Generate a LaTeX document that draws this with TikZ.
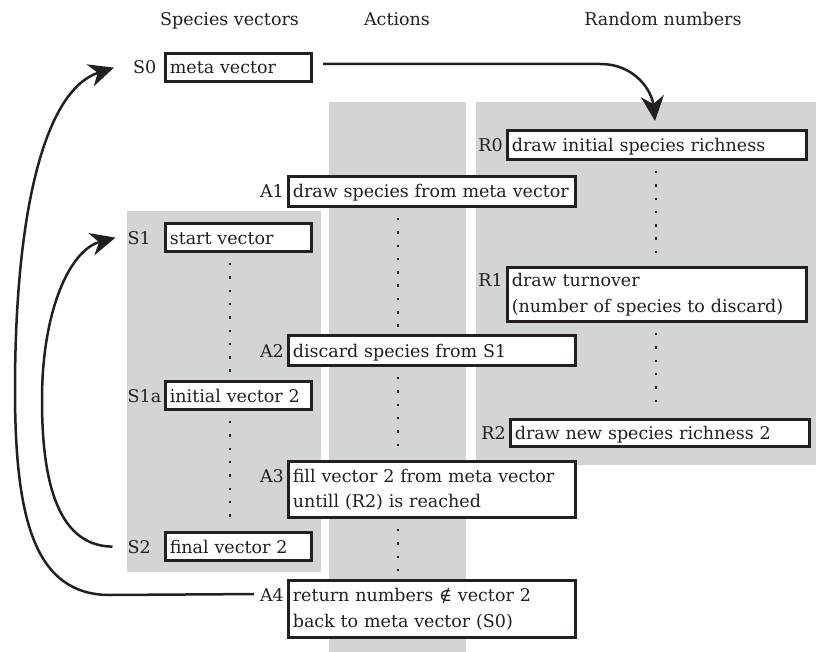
\documentclass[tikz,border=0pt]{standalone}
\usepackage{fontspec}
\setmainfont{DejaVu Serif}
\usetikzlibrary{arrows.meta}
\definecolor{ink}{RGB}{35,31,32}
\definecolor{panel}{RGB}{211,212,214}

\begin{document}
\begin{tikzpicture}[x=1pt,y=-1pt,
  every node/.style={font=\fontsize{17.5}{25.5}\selectfont, text=ink},
  bx/.style={draw=ink, line width=2.6pt, fill=white, inner xsep=4.5pt, inner ysep=0pt, align=left},
  one/.style={text height=13pt, text depth=0pt},
  sbox/.style={bx, minimum width=146.4pt, text width=137.4pt, minimum height=28.4pt},
  abox/.style={bx, minimum width=287.4pt, text width=278.4pt},
  rbox/.style={bx, minimum width=299.4pt, text width=290.4pt},
  lbl/.style={inner sep=0pt},
  hdr/.style={inner sep=0pt, anchor=base},
  dots/.style={draw=ink, line width=2.4pt, dash pattern=on 2.4pt off 10.9pt,
               shorten <=10pt, shorten >=6pt},
  link/.style={draw=ink, line width=2.5pt,
               -{Stealth[length=25pt,width=23pt,inset=8pt]}}
]
\useasboundingbox (0,0) rectangle (816,652);
\fill[white] (0,0) rectangle (816,652);

% shaded columns
\fill[panel] (127,211) rectangle (321,572);
\fill[panel] (329,102) rectangle (466,652);
\fill[panel] (476,102) rectangle (816,465);

% column headings
\node[hdr] (hS) at (229.5,26) {Species vectors};
\node[hdr] (hA) at (397,26) {Actions};
\node[hdr] (hR) at (663,26) {Random numbers};

% helper coordinates for the dotted time lines and left labels
\coordinate (cL) at (230,0);
\coordinate (cM) at (398,0);
\coordinate (cR) at (656,0);
\coordinate (lx) at (127.5,0);

% species vectors
\node[sbox,one] (S0)  at (238.5,67.5)  {meta vector};
\node[sbox,one] (S1)  at (238.5,237.5) {start vector};
\node[sbox,one] (S1a) at (238.5,395.5) {initial vector 2};
\node[sbox,one] (S2)  at (238.5,546.5) {final vector 2};

% actions
\node[abox,one,minimum height=30.4pt] (A1) at (432,191.5) {draw species from meta vector};
\node[abox,one,minimum height=30.4pt] (A2) at (432,350.5) {discard species from S1};
\node[abox,minimum height=56.4pt] (A3) at (432,489.5) {fill vector 2 from meta vector\\untill (R2) is reached};
\node[abox,minimum height=57.4pt] (A4) at (432,609) {return numbers ∉ vector 2\\back to meta vector (S0)};

% random numbers
\node[rbox,one,minimum height=29.4pt] (R0) at (657,145) {draw initial species richness};
\node[rbox,minimum height=54.4pt] (R1) at (657,294.5) {draw turnover\\(number of species to discard)};
\node[rbox,one,minimum height=27.4pt] (R2) at (660,433) {draw new species richness 2};

% labels
\node[lbl,anchor=base east] (S0l) at ([xshift=-7.5pt]S0.base west) {S0};
\node[lbl,anchor=base west] (S1l) at (S1.base west -| lx) {S1};
\node[lbl,anchor=base west] (S1al) at (S1a.base west -| lx) {S1a};
\node[lbl,anchor=base west] (S2l) at (S2.base west -| lx) {S2};
\node[lbl,anchor=base east] (A1l) at ([xshift=-3pt]A1.base west) {A1};
\node[lbl,anchor=base east] (A2l) at ([xshift=-3pt]A2.base west) {A2};
\node[lbl,anchor=base east] (A3l) at ([xshift=-3pt]A3.base west) {A3};
\node[lbl,anchor=base east] (A4l) at ([xshift=-3pt]A4.base west) {A4};
\node[lbl,anchor=base east] (R0l) at ([xshift=-3pt]R0.base west) {R0};
\node[lbl,anchor=base east] (R1l) at ([xshift=-3pt]R1.base west) {R1};
\node[lbl,anchor=base east] (R2l) at ([xshift=-3pt]R2.base west) {R2};

% dotted time lines
\draw[dots] (S1.south -| cL) -- (S1a.north -| cL);
\draw[dots] (S1a.south -| cL) -- (S2.north -| cL);
\draw[dots] (A1.south -| cM) -- (A2.north -| cM);
\draw[dots] (A2.south -| cM) -- (A3.north -| cM);
\draw[dots] (A3.south -| cM) -- (A4.north -| cM);
\draw[dots] (R0.south -| cR) -- (R1.north -| cR);
\draw[dots] (R1.south -| cR) -- (R2.north -| cR);

% arrows
\draw[link] ([shift={(10pt,3.5pt)}]S0.east) -- (600,64)
  .. controls (636,64) and (652,92) .. ([shift={(-2pt,8pt)}]R0.north);
\draw[link] ([shift={(-6pt,1pt)}]A4l.west) -- (110,595)
  .. controls (35,595) and (15,520) .. (15,390)
  .. controls (15,210) and (45,90) .. ([xshift=-19pt]S0l.west);
\draw[link] ([xshift=-15pt]S2l.west)
  .. controls (55,546) and (42,475) .. (42,400)
  .. controls (42,310) and (70,250) .. ([xshift=-12pt]S1l.west);
\end{tikzpicture}
\end{document}
